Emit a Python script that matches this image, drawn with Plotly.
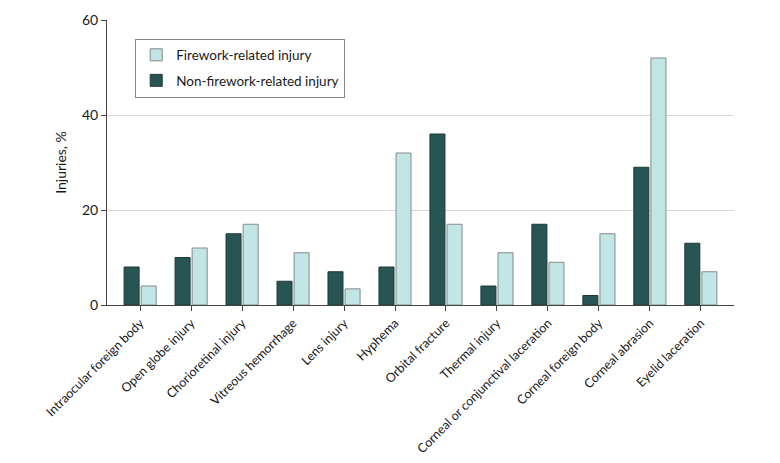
import plotly.graph_objects as go

categories = ["Intraocular foreign body", "Open globe injury", "Chorioretinal injury",
              "Vitreous hemorrhage", "Lens injury", "Hyphema", "Orbital fracture",
              "Thermal injury", "Corneal or conjunctival laceration", "Corneal foreign body",
              "Corneal abrasion", "Eyelid laceration"]
non_firework = [8, 10, 15, 5, 7, 8, 36, 4, 17, 2, 29, 13]
firework = [4, 12, 17, 11, 3.4, 32, 17, 11, 9, 15, 52, 7]
y_ticks = [0, 20, 40, 60]

FONT = "Lato, 'Open Sans', sans-serif"

fig = go.Figure()
fig.add_trace(go.Bar(x=categories, y=non_firework, name="Non-firework-related injury",
                     legendgroup="non", legendrank=2,
                     marker=dict(color="#285453", line=dict(color="#1c3a3a", width=1))))
fig.add_trace(go.Bar(x=categories, y=firework, name="Firework-related injury",
                     legendgroup="fw", legendrank=1,
                     marker=dict(color="#c1e6e5", line=dict(color="#858a8a", width=1))))

fig.update_layout(
    width=772, height=455,
    margin=dict(l=99, r=46, t=12, b=158),
    paper_bgcolor="white", plot_bgcolor="white",
    barmode="group", bargap=0.33, bargroupgap=0.12,
    font=dict(family=FONT, size=13, color="#1a1a1a"),
    showlegend=True,
    legend=dict(x=0.045, y=0.935, xanchor="left", yanchor="top",
                traceorder="grouped", bordercolor="#888", borderwidth=1,
                bgcolor="white", font=dict(size=13.5), itemwidth=30,
                tracegroupgap=5),
)
fig.update_xaxes(
    type="category", range=[-0.65, 11.65], automargin=False,
    showline=True, linecolor="#444", linewidth=1,
    ticks="outside", ticklen=5, tickcolor="#444",
    tickangle=-45, tickfont=dict(size=12.5), showgrid=False,
)
fig.update_yaxes(
    range=[0, 60], tickvals=y_ticks, automargin=False,
    showline=True, linecolor="#444", linewidth=1,
    ticks="outside", ticklen=5, tickcolor="#444",
    showgrid=True, gridcolor="#d9d9d9", gridwidth=1,
    zeroline=False,
    title=dict(text="Injuries, %", font=dict(size=14), standoff=12),
    tickfont=dict(size=14),
)
fig.write_html("out.html")
